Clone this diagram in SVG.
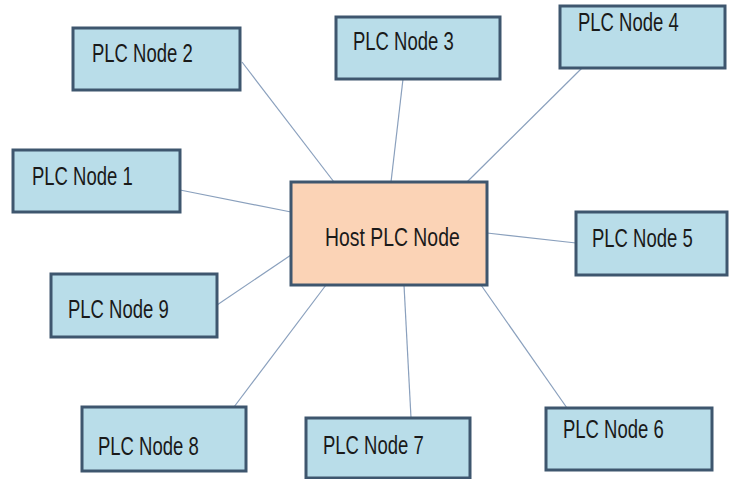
<svg xmlns="http://www.w3.org/2000/svg" width="729" height="479" viewBox="0 0 729 479">
<style>
.node{fill:#b9dde9;stroke:#3e566e;stroke-width:3}
.host{fill:#fbd3b6;stroke:#3e566e;stroke-width:3}
.lbl{font-family:"Liberation Sans",Arial,sans-serif;font-size:18.5px;fill:#1a1a1a}
.hl{font-size:19.4px}
.conn line{stroke:#8aa0bd;stroke-width:1.2}
</style>
<rect width="729" height="479" fill="#ffffff"/>
<g id="connectors" class="conn">
<line x1="242" y1="62" x2="334" y2="182"/>
<line x1="403" y1="79" x2="391" y2="182"/>
<line x1="582" y1="68" x2="467" y2="182"/>
<line x1="180" y1="190" x2="291" y2="212"/>
<line x1="487" y1="233" x2="576" y2="243"/>
<line x1="217" y1="305" x2="291" y2="255"/>
<line x1="234" y1="407" x2="326" y2="285"/>
<line x1="411" y1="418" x2="404" y2="285"/>
<line x1="567" y1="408" x2="481" y2="285"/>
</g>
<g id="host">
<rect class="host" x="291" y="182" width="196" height="103"/>
<text class="lbl hl" transform="translate(325,246) scale(1,1.3)">Host PLC Node</text>
</g>
<g id="node1">
<rect class="node" x="13" y="150" width="167" height="62"/>
<text class="lbl" transform="translate(32,185) scale(1,1.35)">PLC Node 1</text>
</g>
<g id="node2">
<rect class="node" x="73" y="28" width="167" height="62"/>
<text class="lbl" transform="translate(92,62) scale(1,1.35)">PLC Node 2</text>
</g>
<g id="node3">
<rect class="node" x="336" y="17" width="164" height="62"/>
<text class="lbl" transform="translate(353,50) scale(1,1.35)">PLC Node 3</text>
</g>
<g id="node4">
<rect class="node" x="560" y="6" width="165" height="62"/>
<text class="lbl" transform="translate(578,31) scale(1,1.35)">PLC Node 4</text>
</g>
<g id="node5">
<rect class="node" x="576" y="212" width="151" height="63"/>
<text class="lbl" transform="translate(592,247) scale(1,1.35)">PLC Node 5</text>
</g>
<g id="node6">
<rect class="node" x="546" y="408" width="166" height="62"/>
<text class="lbl" transform="translate(563,438) scale(1,1.35)">PLC Node 6</text>
</g>
<g id="node7">
<rect class="node" x="306" y="418" width="164" height="60"/>
<text class="lbl" transform="translate(323,454) scale(1,1.35)">PLC Node 7</text>
</g>
<g id="node8">
<rect class="node" x="82" y="407" width="164" height="64"/>
<text class="lbl" transform="translate(98,455) scale(1,1.35)">PLC Node 8</text>
</g>
<g id="node9">
<rect class="node" x="51" y="274" width="166" height="63"/>
<text class="lbl" transform="translate(68,318) scale(1,1.35)">PLC Node 9</text>
</g>
</svg>
